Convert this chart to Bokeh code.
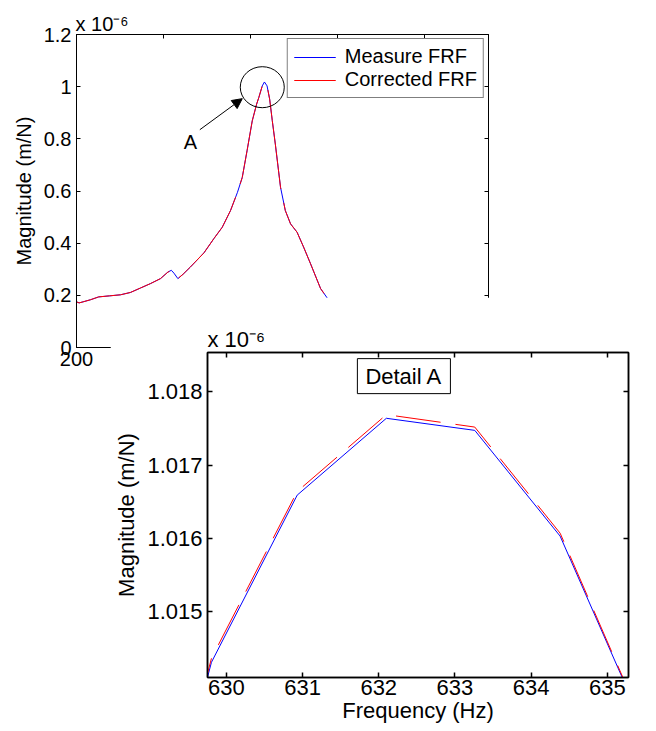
from bokeh.plotting import figure
from bokeh.models import LinearAxis, FixedTicker, Label, Arrow, NormalHead, Range1d
from bokeh.layouts import column
from bokeh.embed import file_html
from bokeh.resources import INLINE

FONT = "Liberation Sans"

# ---- main plot data (magnitude in units of 1e-6 m/N) ----
main_freq = [200, 206, 215, 232, 251, 276, 301, 324, 347, 370, 393, 410, 418, 424, 433,
             445, 462, 493, 516, 535, 554, 570, 581, 592, 604, 614, 619, 627, 632, 638,
             644, 650, 657, 669, 680, 692, 707, 722, 738, 761, 780]
main_measured = [0.175, 0.171, 0.175, 0.183, 0.194, 0.198, 0.202, 0.211, 0.228, 0.245,
                 0.264, 0.289, 0.296, 0.285, 0.264, 0.281, 0.309, 0.363, 0.418, 0.461,
                 0.525, 0.595, 0.652, 0.754, 0.869, 0.933, 0.958, 1.003, 1.018, 1.003,
                 0.952, 0.870, 0.780, 0.614, 0.525, 0.474, 0.442, 0.385, 0.321, 0.226, 0.181]
main_corrected = list(main_measured)
main_x_ticks = [200, 400, 600, 800, 1000]
main_y_ticks = [0, 0.2, 0.4, 0.6, 0.8, 1.0, 1.2]
main_y_labels = ["0", "0.2", "0.4", "0.6", "0.8", "1", "1.2"]
scale_text = "x 10\u207b\u2076"

# ---- detail A data ----
detail_freq = [628.66, 629.805, 630.93, 632.10, 633.26, 634.38, 635.52]
detail_measured = [1.00978, 1.014306, 1.01659, 1.01764, 1.017475, 1.01603, 1.013326]
detail_corrected = [1.00980, 1.01436, 1.01664, 1.01769, 1.01752, 1.01607, 1.01334]
detail_x_ticks = [630, 631, 632, 633, 634, 635]
detail_y_ticks = [1.015, 1.016, 1.017, 1.018]
detail_y_labels = ["1.015", "1.016", "1.017", "1.018"]

# annotation anchors (data coords)
circle_x, circle_y = 627, 0.998
arrow_from = (483.5, 0.835)
arrow_to = (581, 0.954)
a_label_pos = (462, 0.788)
detail_label_pos = (632.33, 1.018216)


def style_axis(ax, size, tick_len):
    ax.major_tick_in = tick_len
    ax.major_tick_out = 0
    ax.minor_tick_in = 0
    ax.minor_tick_out = 0
    ax.axis_line_color = "black"
    ax.major_tick_line_color = "black"
    ax.major_label_text_font = FONT
    ax.major_label_text_font_size = size
    ax.major_label_text_color = "black"
    ax.axis_label_text_font = FONT
    ax.axis_label_text_font_size = size
    ax.axis_label_text_font_style = "normal"
    ax.axis_label_text_color = "black"


def box_axes(fig, xticks, yticks, tick_len, lw):
    top = LinearAxis(ticker=FixedTicker(ticks=xticks))
    right = LinearAxis(ticker=FixedTicker(ticks=yticks))
    for ax in (top, right):
        style_axis(ax, "1px", tick_len)
        ax.major_label_text_color = None
        ax.major_label_standoff = 0
        ax.axis_line_width = lw
        ax.major_tick_line_width = lw
    fig.add_layout(top, "above")
    fig.add_layout(right, "right")


BORDER_LEFT = 97  # shared left border of both figures

# ================= main figure =================
p = figure(width=BORDER_LEFT + 412 + 20, height=34 + 313 + 40,
           min_border_left=BORDER_LEFT, min_border_top=34, min_border_right=20,
           min_border_bottom=40,
           x_range=Range1d(200, 1147), y_range=Range1d(0, 1.2),
           output_backend="svg", toolbar_location=None)
p.background_fill_color = "white"
p.border_fill_color = "white"
p.outline_line_color = "black"
p.xgrid.visible = False
p.ygrid.visible = False

p.title.text = scale_text
p.title.align = "left"
p.title.offset = -1
p.title.standoff = 0
p.title.text_font = FONT
p.title.text_font_size = "20px"
p.title.text_font_style = "normal"
p.title.text_color = "black"

p.xaxis.ticker = FixedTicker(ticks=main_x_ticks)
p.yaxis.ticker = FixedTicker(ticks=main_y_ticks)
p.yaxis.major_label_overrides = {t: l for t, l in zip(main_y_ticks, main_y_labels)}
for ax in p.xaxis + p.yaxis:
    style_axis(ax, "20px", 4)
p.xaxis.major_label_standoff = 4
p.yaxis.major_label_standoff = 5
p.yaxis.axis_label = "Magnitude (m/N)"
p.yaxis.axis_label_standoff = 6
box_axes(p, main_x_ticks, main_y_ticks, 4, 1)

p.line(main_freq, main_measured, line_color="#0000ff", line_width=1,
       legend_label="Measure FRF")
p.line(main_freq, main_corrected, line_color="#ff0000", line_width=1,
       line_dash="100 14", legend_label="Corrected FRF")

p.ellipse(x=[circle_x], y=[circle_y], width=44, height=41,
          width_units="screen", height_units="screen",
          fill_color=None, line_color="black", line_width=1)
p.add_layout(Arrow(x_start=arrow_from[0], y_start=arrow_from[1],
                   x_end=arrow_to[0], y_end=arrow_to[1], line_color="black", line_width=1,
                   end=NormalHead(size=10, fill_color="black", line_color="black")))
p.add_layout(Label(x=a_label_pos[0], y=a_label_pos[1], text="A", text_align="center",
                   text_baseline="middle", text_font=FONT, text_font_size="20px",
                   text_color="black"))

lg = p.legend[0]
lg.location = "top_right"
lg.margin = 4
lg.padding = 6
lg.spacing = 0
lg.glyph_width = 42
lg.glyph_height = 20
lg.label_height = 20
lg.label_standoff = 9
lg.label_text_font = FONT
lg.label_text_font_size = "20px"
lg.label_text_color = "black"
lg.border_line_color = "black"
lg.border_line_width = 1
lg.background_fill_color = "white"
lg.background_fill_alpha = 1.0

# ================= detail figure =================
q = figure(width=BORDER_LEFT + 425 + 16, height=55 + 325 + 53,
           min_border_left=BORDER_LEFT, min_border_top=55, min_border_right=16,
           min_border_bottom=53,
           x_range=Range1d(629.753, 635.277), y_range=Range1d(1.014098, 1.018539),
           output_backend="svg", toolbar_location=None)
q.background_fill_color = "white"
q.border_fill_color = "white"
q.outline_line_color = "black"
q.outline_line_width = 1.5
q.xgrid.visible = False
q.ygrid.visible = False

q.title.text = scale_text
q.title.align = "left"
q.title.offset = 0
q.title.standoff = 2
q.title.text_font = FONT
q.title.text_font_size = "22px"
q.title.text_font_style = "normal"
q.title.text_color = "black"

q.xaxis.ticker = FixedTicker(ticks=detail_x_ticks)
q.yaxis.ticker = FixedTicker(ticks=detail_y_ticks)
q.yaxis.major_label_overrides = {t: l for t, l in zip(detail_y_ticks, detail_y_labels)}
for ax in q.xaxis + q.yaxis:
    style_axis(ax, "22px", 5)
    ax.axis_line_width = 1.5
    ax.major_tick_line_width = 1.5
q.xaxis.major_label_standoff = 2
q.yaxis.major_label_standoff = 5
q.xaxis.axis_label = "Frequency (Hz)"
q.xaxis.axis_label_standoff = 0
q.yaxis.axis_label = "Magnitude (m/N)"
q.yaxis.axis_label_standoff = 5
box_axes(q, detail_x_ticks, detail_y_ticks, 5, 1.5)

q.line(detail_freq, detail_measured, line_color="#0000ff", line_width=1)
q.line(detail_freq, detail_corrected, line_color="#ff0000", line_width=1, line_dash="45 15")

q.add_layout(Label(x=detail_label_pos[0], y=detail_label_pos[1], text="Detail A",
                   text_align="center", text_baseline="middle", text_font=FONT,
                   text_font_size="22px", text_color="black",
                   border_line_color="black", border_line_width=1,
                   background_fill_color="white", padding=(8, 5)))

# main frame left at x=76, detail canvas at (110, 297)
p.margin = (0, 0, 0, 76 - BORDER_LEFT)
q.margin = (297 - (34 + 313 + 40), 0, 0, 110)

layout = column(p, q)
open("out.html", "w").write(file_html(layout, INLINE))
